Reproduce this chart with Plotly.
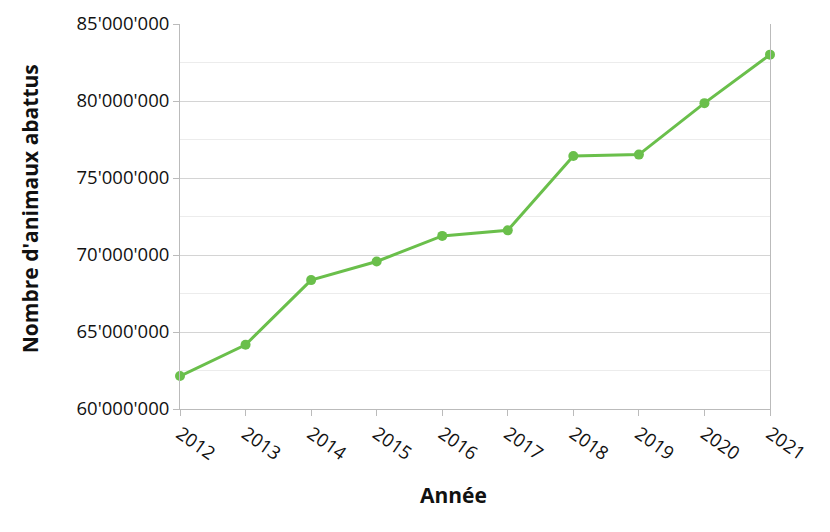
import plotly.graph_objects as go

years = [2012, 2013, 2014, 2015, 2016, 2017, 2018, 2019, 2020, 2021]
animals = [62140000, 64170000, 68370000, 69580000, 71240000, 71600000,
           76430000, 76520000, 79860000, 83010000]

x_title = "Année"
y_title = "Nombre d'animaux abattus"
green = "#6abf4b"
font_family = "Open Sans, Noto Sans, sans-serif"

fig = go.Figure()
fig.add_trace(go.Scatter(
    x=years, y=animals, mode="lines+markers",
    line=dict(color=green, width=3),
    marker=dict(color=green, size=10),
    cliponaxis=False,
    hoverinfo="x+y",
))

fig.update_layout(
    width=830, height=532,
    margin=dict(l=172, r=68, t=16, b=131, autoexpand=False),
    paper_bgcolor="white", plot_bgcolor="white",
    separators=".'",
    showlegend=False,
    font=dict(family=font_family, color="#111", size=18),
    xaxis=dict(
        range=[2012, 2021], tickmode="array", tickvals=years,
        ticktext=[str(y) for y in years],
        tickangle=35, ticks="outside", ticklen=6, tickcolor="#bbbbbb",
        showline=True, linecolor="#bbbbbb", linewidth=1,
        showgrid=False, zeroline=False, automargin=False,
        tickfont=dict(size=18.5, family=font_family, color="#111"),
    ),
    yaxis=dict(
        range=[60000000, 85000000], dtick=5000000, tick0=60000000,
        tickformat=",d",
        ticks="outside", ticklen=6, tickcolor="#bbbbbb",
        showline=True, linecolor="#bbbbbb", linewidth=1, mirror=True,
        showgrid=True, gridcolor="#d4d4d4", gridwidth=1, zeroline=False,
        automargin=False,
        minor=dict(dtick=2500000, tick0=60000000, showgrid=True, gridcolor="#ececec", gridwidth=1),
        tickfont=dict(size=18.5, family=font_family, color="#111"),
    ),
    annotations=[
        dict(text=y_title, xref="paper", yref="paper", x=-0.2542, y=0.519,
             textangle=-90, showarrow=False, xanchor="center", yanchor="middle",
             font=dict(size=21, family=font_family, color="#111", weight="bold")),
        dict(text=x_title, xref="paper", yref="paper", x=0.464, y=-0.223,
             showarrow=False, xanchor="center", yanchor="middle",
             font=dict(size=21, family=font_family, color="#111", weight="bold")),
    ],
)

fig.write_html("out.html")
